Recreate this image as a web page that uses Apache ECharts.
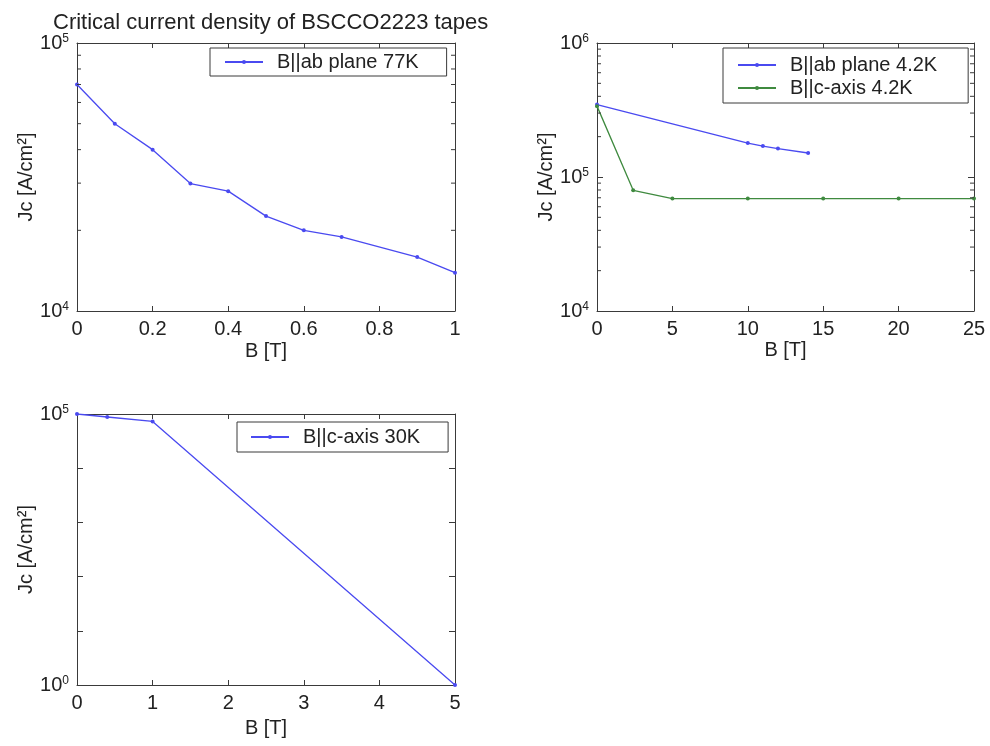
<!DOCTYPE html>
<html>
<head>
<meta charset="utf-8">
<script src="https://cdn.jsdelivr.net/npm/echarts@6/dist/echarts.min.js"></script>
<style>html,body{margin:0;padding:0;background:#fff;}#c{width:990px;height:746px;}</style>
</head>
<body>
<div id="c"></div>
<script>
// ---- data ----
const title = 'Critical current density of BSCCO2223 tapes';
const yName = 'Jc [A/cm²]';
const xName = 'B [T]';

const name77 = 'B||ab plane 77K';
const B77 = [0, 0.1, 0.2, 0.3, 0.4, 0.5, 0.6, 0.7, 0.9, 1.0];
const Jc77 = [70000, 50000, 40000, 29900, 28000, 22600, 20000, 18900, 15900, 13900];

const nameAb4 = 'B||ab plane 4.2K';
const Bab4 = [0, 10, 11, 12, 14];
const JcAb4 = [347000, 179000, 170000, 163000, 151000];

const nameC4 = 'B||c-axis 4.2K';
const Bc4 = [0, 2.4, 5, 10, 15, 20, 25];
const JcC4 = [338000, 79500, 69000, 69000, 69000, 69000, 69000];

const name30 = 'B||c-axis 30K';
const B30 = [0, 0.4, 1, 5];
const Jc30 = [100000, 88000, 73000, 1];

// axis ranges / ticks
const x1Range = [0, 1], x1Step = 0.2;
const y1Range = [1e4, 1e5];
const x2Range = [0, 25], x2Step = 5;
const y2Range = [1e4, 1e6];
const x3Range = [0, 5], x3Step = 1;
const y3Range = [1, 1e5];
const y3Labels = [1, 1e5];
const minor1 = [2e4, 3e4, 4e4, 5e4, 6e4, 7e4, 8e4, 9e4];
const minor2 = [2e4, 3e4, 4e4, 5e4, 6e4, 7e4, 8e4, 9e4, 2e5, 3e5, 4e5, 5e5, 6e5, 7e5, 8e5, 9e5];

// ---- style ----
const BLUE = '#4a4af0';
const GREEN = '#3f8a3f';
const AXIS = '#3a3a3a';
const TXT = '#222';
const FONT = 'Liberation Sans, Arial, sans-serif';

const zip = (a, b) => a.map((v, i) => [v, b[i]]);

const grids = [
  {left: 77, top: 43, width: 378, height: 268},
  {left: 597, top: 43, width: 377, height: 268},
  {left: 77, top: 414, width: 378, height: 271}
];

function xAxes(gi, range, step, gap) {
  const common = {
    type: 'value', gridIndex: gi, min: range[0], max: range[1], interval: step,
    splitLine: {show: false},
    axisLine: {show: true, onZero: false, lineStyle: {color: AXIS, width: 1}},
    axisTick: {show: true, inside: true, length: 5, lineStyle: {color: AXIS}}
  };
  return [
    Object.assign({}, common, {
      position: 'bottom',
      axisLabel: {show: true, margin: 8, color: TXT, fontSize: 20, fontFamily: FONT},
      name: xName, nameLocation: 'middle', nameGap: gap,
      nameTextStyle: {color: TXT, fontSize: 20, fontFamily: FONT}
    }),
    Object.assign({}, common, {position: 'top', axisLabel: {show: false}})
  ];
}

function yAxes(gi, range, only) {
  const common = {
    type: 'log', logBase: 10, gridIndex: gi, min: range[0], max: range[1],
    splitLine: {show: false},
    axisLine: {show: true, onZero: false, lineStyle: {color: AXIS, width: 1}},
    axisTick: {show: true, inside: true, length: 6, lineStyle: {color: AXIS}}
  };
  return [
    Object.assign({}, common, {
      position: 'left',
      axisLabel: {
        show: true, margin: 8, color: TXT, fontSize: 20, fontFamily: FONT,
        formatter: v => {
          if (only && !only.some(o => Math.abs(Math.log10(o) - Math.log10(v)) < 1e-6)) return '';
          return '10{s|' + Math.round(Math.log10(v)) + '}';
        },
        rich: {s: {fontSize: 12, fontFamily: FONT, color: TXT, verticalAlign: 'top', lineHeight: 12}}
      },
      name: yName, nameLocation: 'middle', nameGap: 41,
      nameTextStyle: {color: TXT, fontSize: 20, fontFamily: FONT}
    }),
    Object.assign({}, common, {position: 'right', axisLabel: {show: false}})
  ];
}

function minorTicks(xi, yi, xr, vals) {
  return {
    type: 'custom', xAxisIndex: xi, yAxisIndex: yi, silent: true, clip: false, z: 5,
    data: vals.map(v => [xr[0], v]),
    renderItem: (params, api) => {
      const y = api.value(1);
      const a = api.coord([xr[0], y]);
      const b = api.coord([xr[1], y]);
      return {type: 'group', children: [
        {type: 'line', shape: {x1: a[0], y1: a[1], x2: a[0] + 4, y2: a[1]}, style: {stroke: AXIS, lineWidth: 1}},
        {type: 'line', shape: {x1: b[0] - 4, y1: b[1], x2: b[0], y2: b[1]}, style: {stroke: AXIS, lineWidth: 1}}
      ]};
    }
  };
}

function lineSeries(name, xi, yi, data, color) {
  return {
    type: 'line', name: name, xAxisIndex: xi, yAxisIndex: yi, data: data,
    symbol: 'circle', symbolSize: 4, showSymbol: true,
    lineStyle: {color: color, width: 1.3}, itemStyle: {color: color},
    emphasis: {disabled: true}
  };
}

const legendBase = {
  orient: 'vertical', itemWidth: 38, itemHeight: 5, itemGap: 3,
  backgroundColor: '#fff', borderColor: AXIS, borderWidth: 1, borderRadius: 0,
  textStyle: {color: TXT, fontSize: 20, fontFamily: FONT, padding: [0, 0, 0, 9]},
  selectedMode: false
};

const option = {
  animation: false,
  backgroundColor: '#fff',
  title: {
    text: title, left: 48, top: 7,
    textStyle: {color: TXT, fontSize: 22, fontWeight: 'normal', fontFamily: FONT}
  },
  grid: grids,
  xAxis: [].concat(xAxes(0, x1Range, x1Step, 30), xAxes(1, x2Range, x2Step, 29), xAxes(2, x3Range, x3Step, 33)),
  yAxis: [].concat(yAxes(0, y1Range), yAxes(1, y2Range), yAxes(2, y3Range, y3Labels)),
  legend: [
    Object.assign({}, legendBase, {data: [name77], left: 210, top: 48, padding: [4, 28, 4, 14]}),
    Object.assign({}, legendBase, {data: [nameAb4, nameC4], left: 723, top: 48, padding: [7, 31, 5, 14]}),
    Object.assign({}, legendBase, {data: [name30], left: 237, top: 422, padding: [5, 28, 5, 13]})
  ],
  series: [
    lineSeries(name77, 0, 0, zip(B77, Jc77), BLUE),
    lineSeries(nameAb4, 2, 2, zip(Bab4, JcAb4), BLUE),
    lineSeries(nameC4, 2, 2, zip(Bc4, JcC4), GREEN),
    lineSeries(name30, 4, 4, zip(B30, Jc30), BLUE),
    minorTicks(0, 0, x1Range, minor1),
    minorTicks(2, 2, x2Range, minor2)
  ]
};

const chart = echarts.init(document.getElementById('c'), null, {renderer: 'canvas'});
chart.setOption(option);
</script>
</body>
</html>
